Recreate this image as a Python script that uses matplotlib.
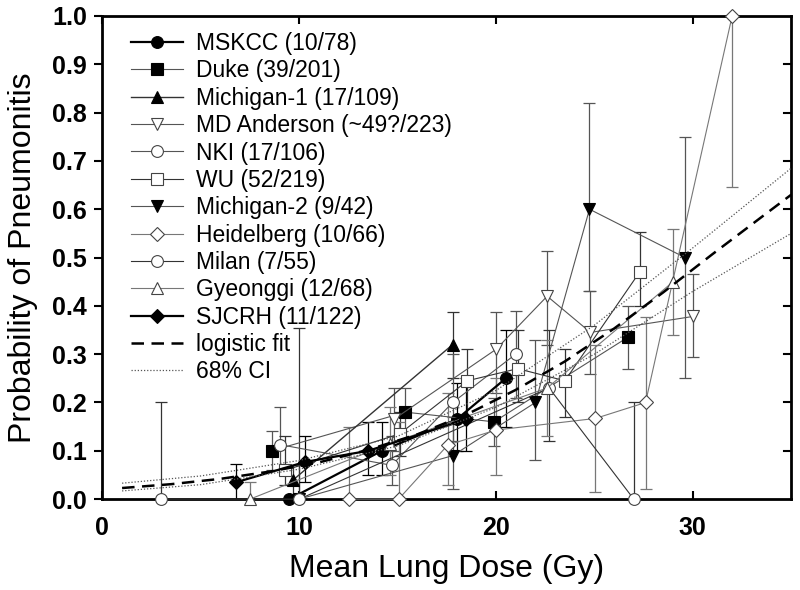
import matplotlib
matplotlib.use("Agg")
import matplotlib.pyplot as plt
import numpy as np

plt.rcParams['font.family'] = ['Liberation Sans', 'DejaVu Sans']

# data: mean lung dose (Gy), rate, lower / upper error bound
mskcc_x = [9.5, 14.2, 18.0, 20.5]
mskcc_y = [0.0, 0.10, 0.165, 0.25]
mskcc_lo = [0.0, 0.05, 0.10, 0.15]
mskcc_hi = [0.0, 0.16, 0.24, 0.35]

duke_x = [8.6, 15.4, 19.9, 26.7]
duke_y = [0.10, 0.18, 0.16, 0.335]
duke_lo = [0.06, 0.13, 0.11, 0.27]
duke_hi = [0.14, 0.23, 0.21, 0.40]

mich1_x = [9.7, 17.8]
mich1_y = [0.04, 0.32]
mich1_lo = [0.0, 0.25]
mich1_hi = [0.07, 0.387]

mda_x = [14.8, 20.0, 22.6, 24.8, 30.0]
mda_y = [0.165, 0.31, 0.42, 0.345, 0.378]
mda_lo = [0.10, 0.22, 0.32, 0.26, 0.294]
mda_hi = [0.23, 0.387, 0.514, 0.43, 0.466]

nki_x = [9.0, 14.7, 17.8, 21.0]
nki_y = [0.113, 0.07, 0.20, 0.30]
nki_lo = [0.06, 0.03, 0.12, 0.21]
nki_hi = [0.19, 0.13, 0.30, 0.39]

wu_x = [9.3, 15.1, 18.55, 21.1, 23.5, 27.3]
wu_y = [0.06, 0.135, 0.245, 0.27, 0.245, 0.47]
wu_lo = [0.03, 0.09, 0.17, 0.20, 0.17, 0.40]
wu_hi = [0.13, 0.18, 0.31, 0.35, 0.31, 0.553]

mich2_x = [10.0, 17.8, 22.0, 24.75, 29.6]
mich2_y = [0.0, 0.09, 0.20, 0.60, 0.50]
mich2_lo = [0.0, 0.02, 0.08, 0.43, 0.25]
mich2_hi = [0.07, 0.17, 0.33, 0.82, 0.75]

heid_x = [12.55, 15.05, 17.55, 20.0, 25.05, 27.6, 32.0]
heid_y = [0.0, 0.0, 0.112, 0.143, 0.167, 0.20, 1.0]
heid_lo = [0.0, 0.0, 0.03, 0.05, 0.015, 0.022, 0.646]
heid_hi = [0.15, 0.16, 0.22, 0.25, 0.32, 0.377, 1.0]

milan_x = [3.0, 10.0, 22.7, 27.0]
milan_y = [0.0, 0.0, 0.23, 0.0]
milan_lo = [0.0, 0.0, 0.12, 0.0]
milan_hi = [0.20, 0.355, 0.35, 0.20]

gy_x = [7.5, 14.6, 22.6, 29.0]
gy_y = [0.0, 0.115, 0.23, 0.45]
gy_lo = [0.0, 0.05, 0.13, 0.34]
gy_hi = [0.035, 0.19, 0.33, 0.56]

sj_x = [6.8, 10.3, 13.5, 18.5]
sj_y = [0.035, 0.077, 0.10, 0.165]
sj_lo = [0.0, 0.035, 0.05, 0.10]
sj_hi = [0.072, 0.13, 0.16, 0.25]

# logistic fit and 68% CI
fit_x = [1, 3.5, 6, 8.5, 11, 13.5, 16, 18.5, 21, 23.5, 26, 28.5, 31, 33.5, 35]
fit_y = [0.023, 0.031, 0.042, 0.057, 0.076, 0.102, 0.134, 0.175, 0.226,
         0.285, 0.353, 0.428, 0.507, 0.584, 0.63]
ci_x = [1, 5, 10, 15, 20, 25, 30, 35]
ci_hi = [0.033, 0.048, 0.080, 0.13, 0.225, 0.36, 0.52, 0.685]
ci_lo = [0.017, 0.030, 0.062, 0.11, 0.19, 0.30, 0.43, 0.55]

fig = plt.figure(figsize=(8, 5.9), dpi=100)
ax = fig.add_axes([0.128, 0.154, 0.861, 0.819])


def series(x, y, lo, hi, label, marker, filled, color='#555555', lw=0.8):
    y = np.array(y)
    err = [y - np.array(lo), np.array(hi) - y]
    ax.errorbar(x, y, yerr=err, fmt='none', ecolor=color, elinewidth=0.9,
                capsize=4, capthick=0.9, zorder=2)
    ax.plot(x, y, color=color, lw=lw, marker=marker,
            markersize=7.5 if marker == 'D' else 8.5,
            markerfacecolor='black' if filled else 'white',
            markeredgecolor='black' if filled else '#444444',
            markeredgewidth=0.8, label=label, zorder=3, clip_on=False)


series(mskcc_x, mskcc_y, mskcc_lo, mskcc_hi, 'MSKCC (10/78)', 'o', True, 'black', 1.6)
series(duke_x, duke_y, duke_lo, duke_hi, 'Duke (39/201)', 's', True)
series(mich1_x, mich1_y, mich1_lo, mich1_hi, 'Michigan-1 (17/109)', '^', True, '#333333', 1.0)
series(mda_x, mda_y, mda_lo, mda_hi, 'MD Anderson (~49?/223)', 'v', False)
series(nki_x, nki_y, nki_lo, nki_hi, 'NKI (17/106)', 'o', False)
series(wu_x, wu_y, wu_lo, wu_hi, 'WU (52/219)', 's', False, '#333333')
series(mich2_x, mich2_y, mich2_lo, mich2_hi, 'Michigan-2 (9/42)', 'v', True)
series(heid_x, heid_y, heid_lo, heid_hi, 'Heidelberg (10/66)', 'D', False, '#777777')
series(milan_x, milan_y, milan_lo, milan_hi, 'Milan (7/55)', 'o', False, '#333333')
series(gy_x, gy_y, gy_lo, gy_hi, 'Gyeonggi (12/68)', '^', False, '#777777')
series(sj_x, sj_y, sj_lo, sj_hi, 'SJCRH (11/122)', 'D', True, 'black', 1.6)

ax.plot(fit_x, fit_y, color='black', lw=1.8, ls=(0, (5, 3)), label='logistic fit', zorder=4)
ax.plot(ci_x, ci_hi, color='#555555', lw=0.9, ls=(0, (1, 1.5)), label='68% CI', zorder=4)
ax.plot(ci_x, ci_lo, color='#555555', lw=0.9, ls=(0, (1, 1.5)), zorder=4)

ax.set_xlim(0, 35)
ax.set_ylim(0, 1.0)
ax.set_xticks([0, 10, 20, 30])
ax.set_yticks(np.arange(0, 1.01, 0.1))
ax.set_yticklabels([f'{v:.1f}' for v in np.arange(0, 1.01, 0.1)])
for lab in ax.get_xticklabels() + ax.get_yticklabels():
    lab.set_fontweight('bold')
    lab.set_fontsize(18)
ax.tick_params(axis='x', direction='in', top=True, length=6, width=1.5, pad=12)
ax.tick_params(axis='y', direction='out', length=6, width=1.5, pad=5)
ax.tick_params(axis='y', which='both', right=False)
for yv in np.arange(0.1, 1.0, 0.1):
    ax.plot([35 - 0.35, 35], [yv, yv], color='black', lw=1.5, clip_on=False, zorder=5)
for s in ax.spines.values():
    s.set_linewidth(2)

ax.set_xlabel('Mean Lung Dose (Gy)', fontsize=23, labelpad=10)
ax.set_ylabel('Probability of Pneumonitis', fontsize=23, labelpad=10)

leg = ax.legend(loc='upper left', frameon=False, fontsize=16.5, handlelength=2.26,
                handletextpad=0.57, labelspacing=0.19, borderaxespad=0.2,
                bbox_to_anchor=(0.022, 0.995))

fig.savefig('out.png', dpi=100)
